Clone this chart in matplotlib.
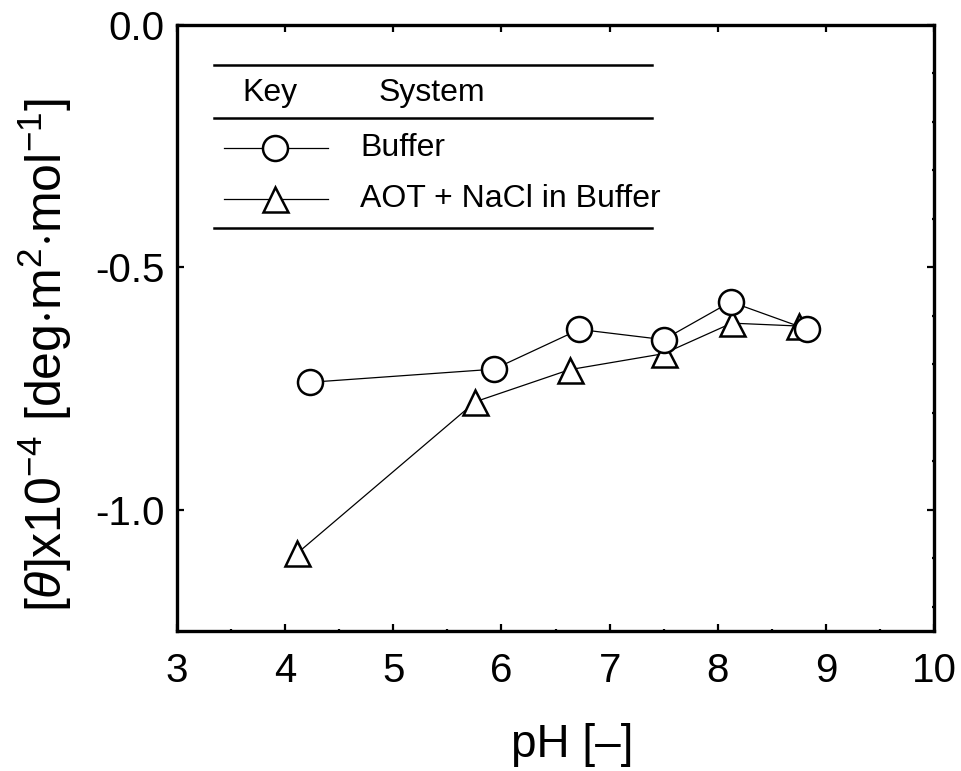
import matplotlib
matplotlib.use("Agg")
import matplotlib.pyplot as plt
from matplotlib.ticker import MultipleLocator

plt.rcParams['font.family'] = ['Liberation Sans', 'DejaVu Sans']
plt.rcParams['mathtext.fontset'] = 'custom'
plt.rcParams['mathtext.rm'] = 'Liberation Sans'
plt.rcParams['mathtext.it'] = 'Liberation Sans:italic'
plt.rcParams['axes.unicode_minus'] = False

# Data
ph_buffer = [4.23, 5.93, 6.72, 7.50, 8.12, 8.83]
theta_buffer = [-0.737, -0.710, -0.628, -0.649, -0.571, -0.628]
ph_aot = [4.11, 5.76, 6.63, 7.50, 8.13, 8.75]
theta_aot = [-1.090, -0.777, -0.711, -0.678, -0.615, -0.621]

xticks = [3, 4, 5, 6, 7, 8, 9, 10]
yticks = [0.0, -0.5, -1.0]
ytick_labels = ['0.0', '-0.5', '-1.0']
legend_labels = ['Buffer', 'AOT + NaCl in Buffer']

fig = plt.figure(figsize=(9.61, 7.71), dpi=100)
ax = fig.add_axes([0.1842, 0.1816, 0.7877, 0.786])

ms = 18
ax.plot(ph_aot, theta_aot, '-', color='black', lw=0.9, marker='^', ms=ms,
        mfc='white', mec='black', mew=1.8, zorder=3)
ax.plot(ph_buffer, theta_buffer, '-', color='black', lw=0.9, marker='o', ms=ms,
        mfc='white', mec='black', mew=1.8, zorder=4)

ax.set_xlim(3, 10)
ax.set_ylim(-1.25, 0.0)
ax.set_xticks(xticks)
ax.set_yticks(yticks)
ax.set_yticklabels(ytick_labels)
ax.xaxis.set_minor_locator(MultipleLocator(0.5))
ax.yaxis.set_minor_locator(MultipleLocator(0.1))
ax.tick_params(which='both', direction='in', top=True, right=True)
ax.tick_params(which='major', length=5, width=1.6)
ax.tick_params(which='minor', length=1.6, width=1.6)
ax.tick_params(axis='x', which='major', pad=15, labelsize=29)
ax.tick_params(axis='y', which='major', pad=9, labelsize=29)
for s in ax.spines.values():
    s.set_linewidth(2.4)

ax.set_xlabel('pH [\u2013]', fontsize=33, labelpad=24)
ax.xaxis.label.set_x(0.522)
ax.set_ylabel(r'[$\theta$]x10$^{-4}$ [deg$\cdot$m$^{2}$$\cdot$mol$^{-1}$]', fontsize=36, labelpad=15)
ax.yaxis.label.set_y(0.455)

# Legend table
T = ax.transAxes
for yy in [0.934, 0.8465, 0.665]:
    ax.plot([0.049, 0.627], [yy, yy], color='black', lw=1.8, transform=T, clip_on=False)
ax.text(0.123, 0.888, 'Key', transform=T, fontsize=23, ha='center', va='center')
ax.text(0.266, 0.888, 'System', transform=T, fontsize=23, ha='left', va='center')
rows = [0.797, 0.713]
markers = ['o', '^']
for yy, mk, lab in zip(rows, markers, legend_labels):
    ax.plot([0.062, 0.1995], [yy, yy], color='black', lw=0.9, transform=T, clip_on=False)
    ax.plot([0.129], [yy], marker=mk, ms=ms, mfc='white', mec='black', mew=1.8,
            transform=T, clip_on=False, linestyle='none')
    ax.text(0.242, yy, lab, transform=T, fontsize=23, ha='left', va='center')

fig.savefig('out.png', dpi=100)
